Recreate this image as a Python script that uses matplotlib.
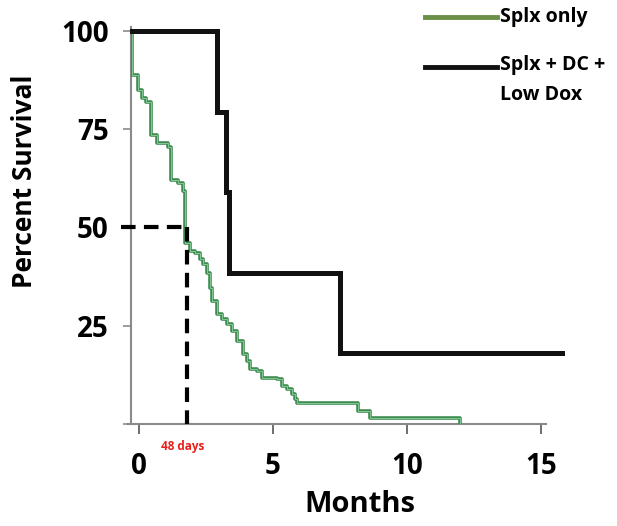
import matplotlib.pyplot as plt
from matplotlib.lines import Line2D

plt.rcParams['font.family'] = ['Open Sans', 'DejaVu Sans']

# Splx only (step curve, value after each time)
splx_t = [-0.26, -0.25, -0.04, 0.10, 0.25, 0.45, 0.67, 1.08, 1.19, 1.46, 1.64,
          1.70, 1.90, 2.09, 2.28, 2.39, 2.54, 2.65, 2.72, 2.91, 3.10, 3.28, 3.47,
          3.66, 3.88, 4.03, 4.14, 4.40, 4.59, 5.15, 5.34, 5.52, 5.71, 5.82, 5.90,
          8.17, 8.62, 11.98]
splx_s = [100, 88.8, 85.0, 83.0, 82.0, 73.5, 71.4, 70.4, 62.0, 61.2, 59.4,
          46.0, 44.1, 43.4, 42.1, 40.8, 38.3, 34.7, 31.4, 28.1, 26.8, 25.5, 23.7,
          21.2, 17.9, 16.1, 14.0, 13.5, 11.7, 11.5, 9.7, 8.9, 7.7, 6.4, 5.4,
          3.3, 1.5, 0.0]

# Splx + DC + Low Dox
combo_t = [-0.26, 2.9, 3.25, 3.36, 7.5, 15.78]
combo_s = [100, 79.5, 59.0, 38.5, 18.0, 18.0]

median_month = 1.79
yticks = [0, 25, 50, 75, 100]
ytick_labels = ['', '25', '50', '75', '100']
xticks = [0, 5, 10, 15]

fig = plt.figure(figsize=(6.17, 5.26), dpi=100)
ax = fig.add_axes([131 / 617, 102 / 526, 431 / 617, 397 / 526])

ax.step(splx_t, splx_s, where='post', color='#3f8c52', lw=2.6, zorder=3)
ax.step(splx_t, splx_s, where='post', color='#84c892', lw=0.7, zorder=3)
ax.step(combo_t, combo_s, where='post', color='#111111', lw=3.6, zorder=4,
        solid_joinstyle='miter', clip_on=False)

# median lines
ax.plot([-0.67, median_month], [50, 50], color='black', lw=3,
        linestyle=(0, (3.5, 2)), clip_on=False, zorder=5)
ax.plot([median_month, median_month], [50, 0], color='black', lw=3,
        linestyle=(0, (3.5, 2)), clip_on=False, zorder=5)
ax.text(median_month - 0.15, -4, '48 days', color='#e8201c', fontsize=8.5,
        fontweight='bold', ha='center', va='top')

ax.set_xlim(-0.3, 15.78)
ax.set_ylim(0, 101)
for s in ['top', 'right']:
    ax.spines[s].set_visible(False)
for s in ['left', 'bottom']:
    ax.spines[s].set_color('#8a8a8a')
    ax.spines[s].set_linewidth(1.5)
ax.spines['bottom'].set_bounds(-0.4, 15.2)

ax.set_yticks(yticks)
ax.set_yticklabels(ytick_labels)
ax.set_xticks(xticks)
ax.tick_params(axis='y', length=6, width=1.2, color='#8a8a8a', pad=10,
               labelsize=20)
ax.tick_params(axis='x', length=7, width=1.2, color='#555555', pad=13,
               labelsize=20)
for lab in ax.get_xticklabels() + ax.get_yticklabels():
    lab.set_fontweight('bold')

fig.text(25 / 617, 1 - 181 / 526, 'Percent Survival', fontsize=19,
         fontweight='bold', rotation=90, ha='center', va='center')
fig.text(360 / 617, 1 - 505 / 526, 'Months', fontsize=21, fontweight='bold',
         ha='center', va='center')

# legend
fig.add_artist(Line2D([425 / 617, 497 / 617], [1 - 17 / 526, 1 - 17 / 526],
                      color='#6a8f47', lw=3.5))
fig.add_artist(Line2D([425 / 617, 497 / 617], [1 - 67 / 526, 1 - 67 / 526],
                      color='#111111', lw=3.5))
fig.text(500 / 617, 1 - 17 / 526, 'Splx only', fontsize=14, fontweight='bold',
         va='center', ha='left')
fig.text(500 / 617, 1 - 65 / 526, 'Splx + DC +', fontsize=14,
         fontweight='bold', va='center', ha='left')
fig.text(500 / 617, 1 - 95 / 526, 'Low Dox', fontsize=14,
         fontweight='bold', va='center', ha='left')

fig.savefig('out.png', dpi=100)
